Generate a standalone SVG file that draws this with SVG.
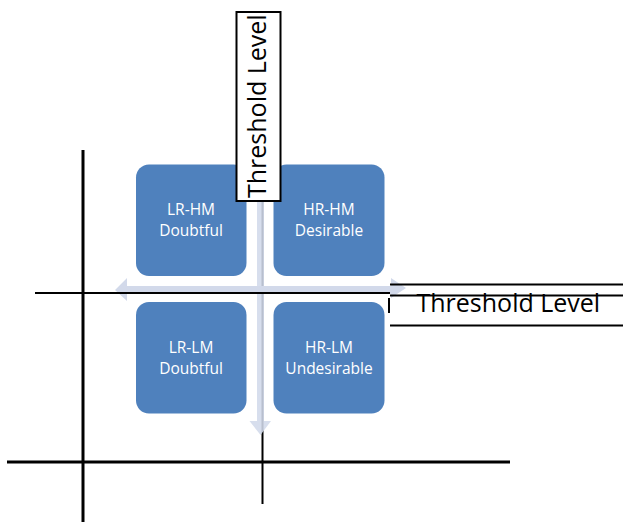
<svg xmlns="http://www.w3.org/2000/svg" width="623" height="522" viewBox="0 0 623 522">
<style>
.ax{stroke:#000;fill:none}
.box{fill:#4F81BD}
.lbl{font-family:"Open Sans","Liberation Sans",sans-serif;font-size:15.5px;fill:#fff;text-anchor:middle}
.thr{font-family:"Open Sans","Liberation Sans",sans-serif;font-size:25px;fill:#000}
.arr{fill:#D2D9EA}
</style>
<rect width="623" height="522" fill="#fff"/>
<g id="axes">
<line class="ax" x1="83" y1="150" x2="83" y2="522" stroke-width="3"/>
<line class="ax" x1="7" y1="462" x2="510" y2="462" stroke-width="3"/>
<line class="ax" x1="262.5" y1="198" x2="262.5" y2="504" stroke-width="2"/>
</g>
<g id="connectors">
<path class="arr" fill-opacity="0.88" d="M257,198 H264 V421 H271 L260.5,435 L249.5,421 H257 Z"/>
<path class="arr" d="M115,290 L127,278 V286 H391 V278 L406,288 L391,298 V294 H127 V301 Z"/>
<line class="ax" x1="35" y1="293" x2="390" y2="293" stroke-width="2"/>
</g>
<g id="lr-hm"><rect class="box" x="136" y="164.5" width="110.5" height="111.5" rx="13"/><text class="lbl" x="191" y="215">LR-HM</text><text class="lbl" x="191" y="236">Doubtful</text></g>
<g id="hr-hm"><rect class="box" x="273.5" y="164.5" width="111" height="111.5" rx="13"/><text class="lbl" x="329" y="215">HR-HM</text><text class="lbl" x="329" y="236">Desirable</text></g>
<g id="lr-lm"><rect class="box" x="136" y="302" width="110.5" height="111.5" rx="13"/><text class="lbl" x="191" y="353">LR-LM</text><text class="lbl" x="191" y="374">Doubtful</text></g>
<g id="hr-lm"><rect class="box" x="273.5" y="302" width="111" height="111.5" rx="13"/><text class="lbl" x="329" y="353">HR-LM</text><text class="lbl" x="329" y="374">Undesirable</text></g>
<g id="threshold-vertical">
<rect x="236.5" y="12" width="44" height="189" fill="#fff" stroke="#000" stroke-width="2"/>
<text class="thr" transform="translate(266,198) rotate(-90)">Threshold Level</text>
</g>
<g id="threshold-horizontal">
<line class="ax" x1="390" y1="284.5" x2="623" y2="284.5" stroke-width="2"/>
<line class="ax" x1="390" y1="295.5" x2="623" y2="295.5" stroke-width="2"/>
<line class="ax" x1="389" y1="298" x2="389" y2="313" stroke-width="2"/>
<line class="ax" x1="390" y1="325.5" x2="623" y2="325.5" stroke-width="2"/>
<text class="thr" x="416.5" y="312">Threshold Level</text>
</g>
</svg>
